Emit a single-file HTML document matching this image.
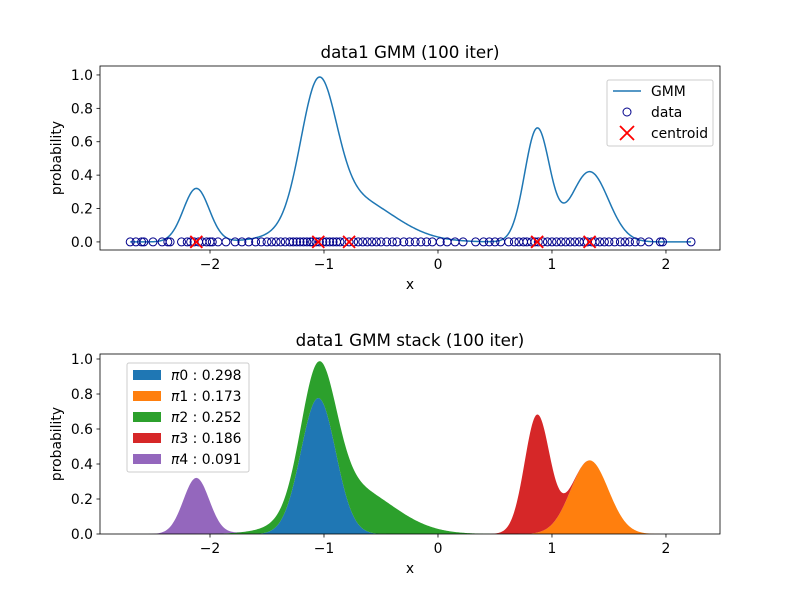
<!DOCTYPE html>
<html><head><meta charset="utf-8"><style>
body{margin:0;background:#fff}
svg text{font-family:"DejaVu Sans","Liberation Sans",sans-serif}
</style></head><body>
<svg id="fig" width="800" height="600" xmlns="http://www.w3.org/2000/svg"></svg>
<script>
const compMeans = [-1.05, 1.33, -0.78, 0.87, -2.12];
const compSigmas = [0.153, 0.164, 0.37, 0.11, 0.1134];
const compWeights = [0.298, 0.173, 0.252, 0.186, 0.091];
const compLabels = ['0.298','0.173','0.252','0.186','0.091'];
const compColors = ['#1f77b4','#ff7f0e','#2ca02c','#d62728','#9467bd'];
const dataX = [-2.7,-2.65,-2.6,-2.58,-2.5,-2.42,-2.37,-2.35,-2.25,-2.2,-2.17,-2.14,-2.1,-2.07,-2.03,-2.0,-1.98,-1.93,-1.86,-1.78,-1.72,-1.66,-1.6,-1.55,-1.5,-1.46,-1.42,-1.38,-1.34,-1.3,-1.27,-1.24,-1.21,-1.18,-1.15,-1.12,-1.1,-1.07,-1.04,-1.01,-0.98,-0.95,-0.92,-0.89,-0.86,-0.82,-0.78,-0.74,-0.7,-0.66,-0.62,-0.58,-0.54,-0.5,-0.45,-0.4,-0.36,-0.3,-0.25,-0.2,-0.15,-0.1,-0.05,0.02,0.08,0.15,0.22,0.33,0.4,0.45,0.5,0.55,0.62,0.67,0.71,0.75,0.78,0.82,0.85,0.88,0.92,0.96,1.0,1.04,1.08,1.12,1.16,1.2,1.24,1.28,1.31,1.35,1.38,1.42,1.46,1.5,1.55,1.6,1.64,1.68,1.73,1.78,1.85,1.95,1.97,2.22];
const xTicks = [-2,-1,0,1,2];
const yTicks = [0,0.2,0.4,0.6,0.8,1.0];
const NS='http://www.w3.org/2000/svg';
const svg=document.getElementById('fig');
const FS=13.9;
function mk(tag,attrs,parent){const e=document.createElementNS(NS,tag);for(const k in attrs)e.setAttribute(k,attrs[k]);(parent||svg).appendChild(e);return e;}
function gauss(x,m,s){return Math.exp(-0.5*((x-m)/s)**2)/(s*Math.sqrt(2*Math.PI));}
function comp(k,x){return compWeights[k]*gauss(x,compMeans[k],compSigmas[k]);}
function total(x){let t=0;for(let k=0;k<compMeans.length;k++)t+=comp(k,x);return t;}
const xmin=-2.965,xmax=2.474;
function makeAxes(L,R,T,B,ylo,yhi){
  return {L,R,T,B,sx:x=>L+(x-xmin)/(xmax-xmin)*(R-L),sy:y=>B-(y-ylo)/(yhi-ylo)*(B-T)};
}
const A1=makeAxes(100,720,66,250,-0.0484,1.0536);
const A2=makeAxes(100,720,354,534,0,1.0286);
function drawFrame(A,title,tname){
  const g=mk('g',{});
  
  
  for(const t of xTicks){const x=A.sx(t);
    const l=mk('line',{x1:x,x2:x,y1:A.B,y2:A.B+3.5,stroke:'#000','stroke-width':0.8},g);
    
    const tx=mk('text',{x:x,y:A.B+19,'text-anchor':'middle','font-size':FS},g);
    
    tx.textContent=t<0?'\u2212'+(-t):String(t);}
  for(const t of yTicks){const y=A.sy(t);
    const l=mk('line',{x1:A.L-3.5,x2:A.L,y1:y,y2:y,stroke:'#000','stroke-width':0.8},g);
    
    const tx=mk('text',{x:A.L-7,y:y+5,'text-anchor':'end','font-size':FS},g);
    
    tx.textContent=t.toFixed(1);}
  const tt=mk('text',{x:(A.L+A.R)/2,y:A.T-8,'text-anchor':'middle','font-size':16.7},g);
  
  tt.textContent=title;
  const xl=mk('text',{x:(A.L+A.R)/2,y:A.B+39,'text-anchor':'middle','font-size':FS},g);
  
  xl.textContent='x';
  const cy=(A.T+A.B)/2;
  const yl=mk('text',{x:61,y:cy,'text-anchor':'middle','font-size':FS,transform:`rotate(-90 61 ${cy})`},g);
  
  yl.textContent='probability';
}
function drawBorder(A){
  const r=mk('rect',{x:A.L,y:A.T,width:A.R-A.L,height:A.B-A.T,fill:'none',stroke:'#000','stroke-width':0.8});
  
}
drawFrame(A1,'data1 GMM (100 iter)','top');
let d='';
for(let i=0;i<=600;i++){const x=-2.7+i*(2.22+2.7)/600;d+=(i?'L':'M')+A1.sx(x).toFixed(2)+','+A1.sy(total(x)).toFixed(2);}
const gl=mk('path',{d,fill:'none',stroke:'#1f77b4','stroke-width':1.5});

for(const x of dataX){const c=mk('circle',{cx:A1.sx(x),cy:A1.sy(0),r:4,fill:'none',stroke:'#00008b','stroke-width':1});
  }
for(const m of compMeans){const cx=A1.sx(m),cy=A1.sy(0);
  const p=mk('path',{d:`M${cx-6},${cy-6}L${cx+6},${cy+6}M${cx-6},${cy+6}L${cx+6},${cy-6}`,stroke:'#ff0000','stroke-width':1.8});
  }
drawBorder(A1);
const lg=mk('g',{});

mk('rect',{x:607,y:80,width:106,height:66,rx:2,fill:'#fff','fill-opacity':0.8,stroke:'#ccc'},lg);
mk('line',{x1:613,x2:641,y1:91,y2:91,stroke:'#1f77b4','stroke-width':1.5},lg);
mk('circle',{cx:627,cy:112,r:4,fill:'none',stroke:'#00008b'},lg);
mk('path',{d:'M620,126L634,140M620,140L634,126',stroke:'#ff0000','stroke-width':1.8},lg);
[['GMM',96],['data',117],['centroid',138]].forEach(([t,y])=>{const e=mk('text',{x:651,y:y,'font-size':FS},lg);
  e.textContent=t;});
drawFrame(A2,'data1 GMM stack (100 iter)','bottom');
const N=600,xs=[];for(let i=0;i<=N;i++)xs.push(-2.7+i*(2.3+2.7)/N);
let base=xs.map(()=>0);
for(let k=0;k<compMeans.length;k++){
  const top=xs.map((x,i)=>base[i]+comp(k,x));
  let p='';xs.forEach((x,i)=>p+=(i?'L':'M')+A2.sx(x).toFixed(2)+','+A2.sy(top[i]).toFixed(2));
  for(let i=xs.length-1;i>=0;i--)p+='L'+A2.sx(xs[i]).toFixed(2)+','+A2.sy(base[i]).toFixed(2);
  const a=mk('path',{d:p+'Z',fill:compColors[k]});
  
  base=top;
}
drawBorder(A2);
const lb=mk('g',{});

mk('rect',{x:127,y:363,width:122,height:109,rx:2,fill:'#fff','fill-opacity':0.8,stroke:'#ccc'},lb);
for(let k=0;k<5;k++){const y=370+k*21;
  mk('rect',{x:133,y:y,width:28,height:10,fill:compColors[k]},lb);
  const e=mk('text',{x:171,y:y+10,'font-size':FS},lb);
  
  e.innerHTML='<tspan font-style="italic">\u03c0</tspan>'+k+' : '+compLabels[k];}
</script>
</body></html>
